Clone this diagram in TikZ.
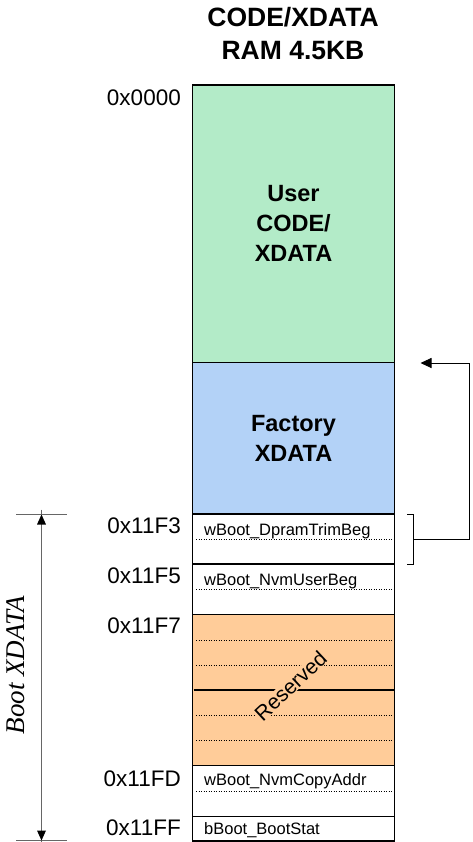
\documentclass[tikz,border=0pt]{standalone}
\usepackage{fontspec}
\setmainfont{Liberation Sans}
\newfontfamily\timesf{Liberation Serif}
\usetikzlibrary{arrows.meta}
\definecolor{usergreen}{RGB}{179,235,200}
\definecolor{factblue}{RGB}{179,210,247}
\definecolor{resorange}{RGB}{255,204,153}
\begin{document}
\begin{tikzpicture}[x=1pt,y=-1pt,
  cell/.style={draw=black,line width=1.8pt,minimum width=202pt,inner sep=0pt,outer sep=0pt,anchor=center},
  bigtxt/.style={font=\fontsize{23.5}{30}\selectfont\bfseries,align=center},
  addr/.style={anchor=base east,inner sep=0pt,font=\fontsize{22.5}{26}\selectfont},
  fld/.style={anchor=base west,inner sep=0pt,font=\fontsize{16.5}{20}\selectfont},
  dots/.style={line width=0.9pt,dash pattern=on 0.9pt off 1.6pt},
  thin/.style={line width=0.9pt},
  dim/.style={line width=0.9pt,draw=black!60}
]
\useasboundingbox (0,0) rectangle (472,842);
% title
\node[font=\fontsize{26.5}{33}\selectfont\bfseries,align=center,inner sep=0pt] (title) at (293,34) {CODE/XDATA\\RAM 4.5KB};
% cells
\node[cell,fill=usergreen,minimum height=277.5pt,bigtxt] (user) at (293.5,223.75) {User\\CODE/\\XDATA};
\node[cell,fill=factblue,minimum height=151.5pt,bigtxt] (fact) at (293.5,438.25) {Factory\\XDATA};
\node[cell,fill=white,minimum height=50pt] (r1) at (293.5,539) {};
\node[cell,fill=white,minimum height=50.5pt] (r2) at (293.5,589.25) {};
\node[cell,fill=resorange,minimum height=151pt] (res) at (293.5,690) {};
\node[cell,fill=white,minimum height=51pt] (r4) at (293.5,791) {};
\node[cell,fill=white,minimum height=24.5pt] (r5) at (293.5,828.75) {};
% inner lines
\draw[line width=1.1pt] ([xshift=1pt]res.west) -- ([xshift=-1pt]res.east);
\foreach \yy in {539.3,589,640,665,715.7,740.7,791}{
  \draw[dots] (196,\yy) -- (392,\yy);
}
\node[rotate=43,font=\fontsize{21}{24}\selectfont,inner xsep=0.5pt,inner ysep=0pt,fill=resorange] (reslbl) at (290.5,686) {Reserved};
% field labels
\node[fld] (f1) at (204,535) {wBoot\_DpramTrimBeg};
\node[fld] (f2) at (204,585) {wBoot\_NvmUserBeg};
\node[fld] (f4) at (204,785) {wBoot\_NvmCopyAddr};
\node[fld] (f5) at (204,834.5) {bBoot\_BootStat};
% addresses
\node[addr] (a0) at (181,106) {0x0000};
\node[addr] (a1) at (181,533) {0x11F3};
\node[addr] (a2) at (181,583.5) {0x11F5};
\node[addr] (a3) at (181,633.5) {0x11F7};
\node[addr] (a4) at (181,786) {0x11FD};
\node[addr] (a5) at (181,835) {0x11FF};
% bracket and arrow
\coordinate (bt0) at (407,514);
\coordinate (bt) at (413,514);
\coordinate (bb) at (413,564);
\coordinate (bb0) at (407,564);
\coordinate (bm) at (413,539);
\coordinate (rc1) at (469,539);
\coordinate (rc2) at (469,363);
\coordinate (tip) at (420.5,363);
\draw[thin] (bt0) -- (bt) -- (bb) -- (bb0);
\draw[thin,-{Triangle[length=11pt,width=10pt]}] (bm) -- (rc1) -- (rc2) -- (tip);
% dimension
\coordinate (dt) at (41.5,514.5);
\coordinate (db) at (41.5,840.5);
\coordinate (tl1) at (16,514.5);
\coordinate (tr1) at (67,514.5);
\coordinate (tl2) at (16,840.5);
\coordinate (tr2) at (67,840.5);
\draw[dim] (tl1) -- (tr1);
\draw[dim] (tl2) -- (tr2);
\draw[dim] ([yshift=5pt]dt) -- ([yshift=-5pt]db);
\fill[black] (dt) -- ++(-4.5,10) -- ++(9,0) -- cycle;
\fill[black] (db) -- ++(-4.5,-10) -- ++(9,0) -- cycle;
\node[rotate=90,font=\fontsize{27}{30}\selectfont\timesf\itshape,inner sep=0pt] (bootlbl) at (16,665) {Boot XDATA};
\end{tikzpicture}
\end{document}
